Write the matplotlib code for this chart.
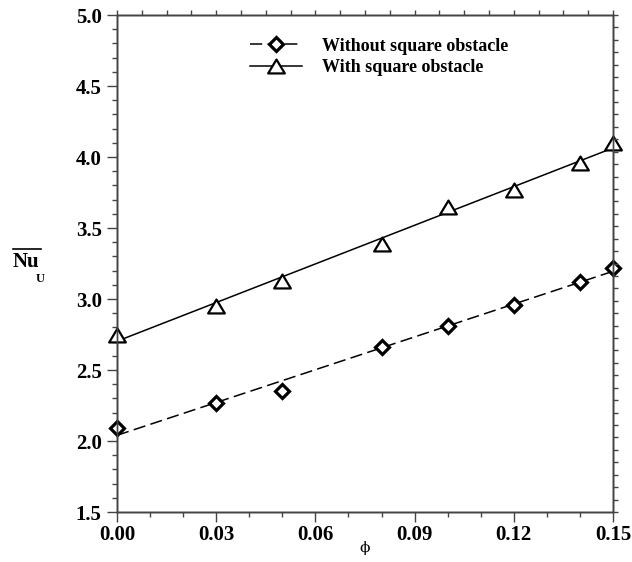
import numpy as np
import matplotlib
matplotlib.use('Agg')
import matplotlib.pyplot as plt
from matplotlib.lines import Line2D
from matplotlib.path import Path

# ---- data ----
phi = [0.00, 0.03, 0.05, 0.08, 0.10, 0.12, 0.14, 0.15]
nu_without = [2.09, 2.27, 2.35, 2.66, 2.81, 2.96, 3.12, 3.22]
nu_with = [2.75, 2.95, 3.13, 3.39, 3.65, 3.77, 3.96, 4.10]
series_labels = ['Without square obstacle', 'With square obstacle']
x_ticks = [0.00, 0.03, 0.06, 0.09, 0.12, 0.15]
x_tick_labels = ['0.00', '0.03', '0.06', '0.09', '0.12', '0.15']
y_ticks = [1.5, 2.0, 2.5, 3.0, 3.5, 4.0, 4.5, 5.0]
y_tick_labels = ['1.5', '2.0', '2.5', '3.0', '3.5', '4.0', '4.5', '5.0']
x_range = (0.0, 0.15)
y_range = (1.5, 5.0)

SERIF = 'Liberation Serif'
AXC = '#444444'

fig = plt.figure(figsize=(6.32, 5.62), dpi=100)
W, H = 632, 562
L, R, T, B = 117, 613, 15, 512
ax = fig.add_axes([L / W, 1 - B / H, (R - L) / W, (B - T) / H])
ax.set_xlim(*x_range)
ax.set_ylim(*y_range)

# linear fits
xf = np.array(x_range)
p1 = np.polyfit(phi, nu_without, 1)
p2 = np.polyfit(phi, nu_with, 1)

tri = Path([(0, 1), (-1.2, -1), (1.2, -1), (0, 1)],
           [Path.MOVETO, Path.LINETO, Path.LINETO, Path.CLOSEPOLY])
DASH = (8, 3.5)

ax.plot(xf, np.polyval(p1, xf), color='black', lw=1.1, dashes=DASH, zorder=2)
ax.plot(xf, np.polyval(p2, xf), color='black', lw=1.1, zorder=2)
ax.plot(phi, nu_without, linestyle='none', marker='D', ms=7.5, mfc='white',
        mec='black', mew=2.3, zorder=3, clip_on=False)
ax.plot(phi, nu_with, linestyle='none', marker=tri, ms=12, mfc='white',
        mec='black', mew=1.6, zorder=3, clip_on=False)

# legend handles
h1 = Line2D([], [], color='black', lw=1.1, dashes=DASH, marker='D', ms=7.5,
            mfc='white', mec='black', mew=2.3)
h2 = Line2D([], [], color='black', lw=1.1, marker=tri, ms=12,
            mfc='white', mec='black', mew=1.6)
leg = ax.legend([h1, h2], series_labels, loc='center left',
                bbox_to_anchor=((250 - L) / (R - L), (B - 57) / (B - T)),
                frameon=False, borderpad=0, borderaxespad=0,
                handlelength=2.9, handletextpad=1.1, labelspacing=0.25,
                prop={'family': SERIF, 'weight': 'bold', 'size': 13})

# spines
for s in ax.spines.values():
    s.set_color(AXC)
    s.set_linewidth(1.0)

ax.set_xticks(x_ticks)
ax.set_xticklabels(x_tick_labels)
ax.set_yticks(y_ticks)
ax.set_yticklabels(y_tick_labels)
ax.set_xticks(np.arange(0, 0.1501, 0.01), minor=True)
ax.set_yticks(np.arange(1.5, 5.001, 0.1), minor=True)
ax.tick_params(which='major', direction='out', length=7, width=1.0, color=AXC,
               top=False, right=False, pad=2)
ax.tick_params(axis='y', which='major', pad=4)
ax.tick_params(which='minor', direction='out', length=3.6, width=1.0, color=AXC,
               top=False, right=False)
for lab in ax.get_xticklabels() + ax.get_yticklabels():
    lab.set_fontfamily(SERIF)
    lab.set_fontweight('bold')
    lab.set_fontsize(15)

# top / right mirror axes with their own tick spacing
axt = ax.twiny()
axt.set_xlim(*x_range)
axt.set_xticks(np.linspace(x_range[0], x_range[1], 21))
axt.tick_params(axis='x', direction='out', length=3.6, width=1.0, color=AXC,
                labeltop=False, top=True)
axr = ax.twinx()
axr.set_ylim(*y_range)
axr.set_yticks(np.linspace(y_range[0], y_range[1], 41))
axr.tick_params(axis='y', direction='out', length=3.6, width=1.0, color=AXC,
                labelright=False, right=True)
for a in (axt, axr):
    for s in a.spines.values():
        s.set_color(AXC)
        s.set_linewidth(1.0)

# axis labels
fig.text(365 / W, 1 - 548 / H, 'ϕ', family=['DejaVu Serif'], fontsize=11,
         ha='center', va='center')
fig.text(13 / W, 1 - 262 / H, 'Nu', fontfamily=SERIF, fontweight='bold',
         fontsize=15, ha='left', va='center')
fig.text(36 / W, 1 - 279 / H, 'U', fontfamily=SERIF, fontweight='bold',
         fontsize=9, ha='left', va='center')
fig.add_artist(Line2D([13 / W, 41 / W], [1 - 249 / H, 1 - 249 / H],
                      color='black', lw=1.2, transform=fig.transFigure))

fig.savefig('out.png', dpi=100)
